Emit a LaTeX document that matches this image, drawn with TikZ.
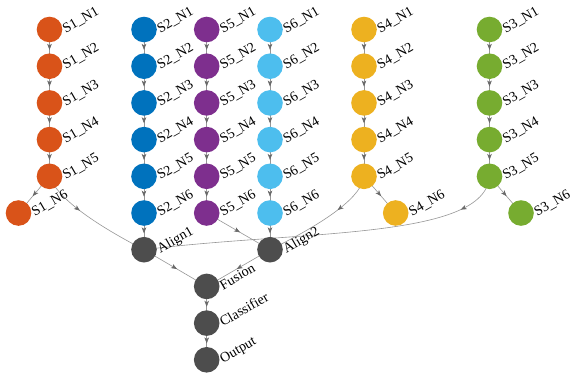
\documentclass[tikz,border=0pt]{standalone}
\usepackage{fontspec}
\setmainfont{Liberation Serif}
\usetikzlibrary{arrows.meta,decorations.markings,backgrounds}
\definecolor{cSa}{RGB}{217,83,25}
\definecolor{cSb}{RGB}{0,114,189}
\definecolor{cSe}{RGB}{126,47,142}
\definecolor{cSf}{RGB}{77,190,238}
\definecolor{cSd}{RGB}{237,177,32}
\definecolor{cSc}{RGB}{119,172,48}
\definecolor{cG}{RGB}{77,77,77}
\definecolor{cE}{RGB}{150,150,150}
\definecolor{cA}{RGB}{105,105,105}
\tikzset{
  vert/.style={circle, fill=#1, draw=none, minimum size=25.6pt, inner sep=0pt, outer sep=0pt},
  lbl/.style={anchor=base west, rotate=30, inner sep=0pt, outer sep=0pt, text=black,
    font=\fontsize{14}{14}\selectfont},
  edge/.style={draw=cE, line width=0.6pt, postaction={decorate},
    decoration={markings, mark=at position #1 with
      {\pgftransformxshift{2pt}\arrow{Stealth[length=6pt,width=4.6pt,inset=1.6pt,color=cA]}}}},
  edge/.default=0.5
}
\newcommand{\vtx}[5]{% name, x, y, colour, text
  \node[vert=#4] (#1) at (#2,#3) {};
  \node[lbl] (#1-l) at ([xshift=16.4pt,yshift=-3.6pt]#1.center) {#5};
}
\begin{document}
\begin{tikzpicture}[x=1pt,y=1pt]
\useasboundingbox (0,0) rectangle (581,-378);
% columns
\foreach \c/\x/\col/\n in {1/49.5/cSa/5, 2/144/cSb/6, 5/206.7/cSe/6, 6/270/cSf/6, 4/364/cSd/5, 3/489.5/cSc/5}{
  \foreach \i in {1,...,\n}{
    \pgfmathsetmacro\yy{-29.5-36.7*(\i-1)}
    \vtx{s\c n\i}{\x}{\yy}{\col}{S\c\_N\i}
  }
}
\vtx{s1n6}{18.5}{-213}{cSa}{S1\_N6}
\vtx{s4n6}{395.7}{-213}{cSd}{S4\_N6}
\vtx{s3n6}{521}{-213}{cSc}{S3\_N6}
\vtx{align1}{144}{-249.7}{cG}{Align1}
\vtx{align2}{270}{-249.7}{cG}{Align2}
\vtx{fusion}{206.7}{-286.4}{cG}{Fusion}
\vtx{classifier}{206.7}{-323.1}{cG}{Classifier}
\vtx{output}{206.7}{-359.8}{cG}{Output}
% control points of the long curved edges
\coordinate (ca1) at (56.5,-196.1);
\coordinate (ca2) at (88,-220.6);
\coordinate (cb1) at (362,-195.4);
\coordinate (cb2) at (330.7,-219.9);
\coordinate (cc1) at (485,-240);
\coordinate (cc2) at (300,-230);
\begin{scope}[on background layer]
  \foreach \c/\n in {1/5, 2/6, 5/6, 6/6, 4/5, 3/5}{
    \foreach \i [evaluate=\i as \j using int(\i+1)] in {1,...,\n}{
      \ifnum\i<\n
        \draw[edge] (s\c n\i.center) -- (s\c n\j.center);
      \fi
    }
  }
  \draw[edge] (s1n5.center) -- (s1n6.center);
  \draw[edge] (s4n5.center) -- (s4n6.center);
  \draw[edge] (s3n5.center) -- (s3n6.center);
  \draw[edge] (s2n6.center) -- (align1.center);
  \draw[edge] (s6n6.center) -- (align2.center);
  \draw[edge] (s5n6.center) -- (align2.center);
  \draw[edge=0.366] (s1n5.center) .. controls (ca1) and (ca2) .. (align1.center);
  \draw[edge=0.343] (s4n5.center) .. controls (cb1) and (cb2) .. (align2.center);
  \draw[edge=0.121] (s3n5.center) .. controls (cc1) and (cc2) .. (align1.center);
  \draw[edge] (align1.center) -- (fusion.center);
  \draw[edge] (align2.center) -- (fusion.center);
  \draw[edge] (fusion.center) -- (classifier.center);
  \draw[edge] (classifier.center) -- (output.center);
\end{scope}
\end{tikzpicture}
\end{document}
